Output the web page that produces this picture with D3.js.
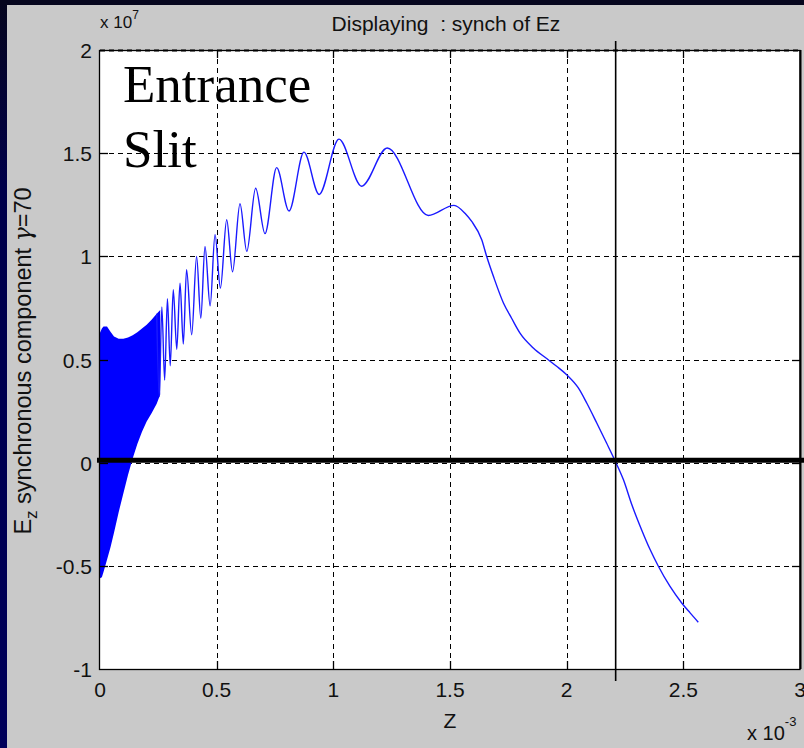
<!DOCTYPE html>
<html>
<head>
<meta charset="utf-8">
<script src="https://cdn.jsdelivr.net/npm/d3@7"></script>
<style>
  html, body { margin: 0; padding: 0; background: #05052a; overflow: hidden; }
  svg { display: block; }
</style>
</head>
<body>
<svg id="chart" width="804" height="748"></svg>
<script>
// z in units of 1e-3, Ez in units of 1e7

// Envelope of the densely oscillating field near the entrance slit
const envZ     = [0, 0.008, 0.015, 0.03, 0.045, 0.06, 0.08, 0.1, 0.12, 0.14, 0.16, 0.18, 0.2, 0.221, 0.243, 0.258];
const envUpper = [0.63, 0.65, 0.66, 0.66, 0.635, 0.612, 0.6, 0.6, 0.607, 0.618, 0.632, 0.65, 0.669, 0.693, 0.722, 0.74];
const envLower = [-0.56, -0.555, -0.53, -0.47, -0.41, -0.34, -0.24, -0.15, -0.06, 0.02, 0.09, 0.15, 0.2, 0.24, 0.285, 0.33];

// Resolved oscillation (peaks and troughs) and the smooth tail
const waveZ  = [0.243, 0.254, 0.265, 0.277, 0.289, 0.301, 0.314, 0.329,
                0.343, 0.357, 0.371, 0.393, 0.414, 0.432, 0.45, 0.472, 0.493, 0.516, 0.543, 0.568,
                0.6, 0.629, 0.667, 0.707, 0.757, 0.81, 0.874, 0.939, 1.024, 1.121, 1.231, 1.407, 1.517,
                1.567, 1.593, 1.636, 1.657, 1.686, 1.729, 1.764, 1.8, 1.857, 1.921, 1.957, 2.0, 2.05,
                2.086, 2.129, 2.171, 2.207, 2.243, 2.279, 2.321, 2.357, 2.393, 2.443, 2.493, 2.529, 2.564];
const waveEz = [0.722, 0.32, 0.755, 0.40, 0.795, 0.47, 0.838, 0.55,
                0.87, 0.575, 0.935, 0.62, 1.0, 0.70, 1.048, 0.76, 1.105, 0.846, 1.177, 0.925,
                1.255, 1.024, 1.33, 1.11, 1.43, 1.22, 1.505, 1.30, 1.568, 1.34, 1.525, 1.198, 1.247,
                1.205, 1.169, 1.08, 1.0, 0.903, 0.774, 0.70, 0.628, 0.556, 0.499, 0.467, 0.426, 0.362,
                0.289, 0.192, 0.095, 0.01, -0.082, -0.203, -0.325, -0.42, -0.502, -0.6, -0.68, -0.728, -0.773];

const xTicks = [0, 0.5, 1, 1.5, 2, 2.5, 3];
const xTickLabels = ["0", "0.5", "1", "1.5", "2", "2.5", "3"];
const yTicks = [-1, -0.5, 0, 0.5, 1, 1.5, 2];
const yTickLabels = ["-1", "-0.5", "0", "0.5", "1", "1.5", "2"];

// Slide annotations: exit position and zero reference
const exitZ = 2.21;
const baselineEz = 0.012;

const W = 804, H = 748;
const plot = { left: 100, right: 800, top: 50, bottom: 669 };

const svg = d3.select("#chart");
const x = d3.scaleLinear().domain([0, 3]).range([plot.left, plot.right]);
const y = d3.scaleLinear().domain([-1, 2]).range([plot.bottom, plot.top]);

// slide background
const defs = svg.append("defs");
const grad = defs.append("linearGradient").attr("id", "slideBg")
  .attr("x1", 0).attr("y1", 0).attr("x2", 0).attr("y2", 1);
grad.append("stop").attr("offset", "0%").attr("stop-color", "#06061e");
grad.append("stop").attr("offset", "25%").attr("stop-color", "#00004a");
grad.append("stop").attr("offset", "100%").attr("stop-color", "#00005a");
svg.append("rect").attr("width", W).attr("height", H).attr("fill", "url(#slideBg)");
svg.append("rect").attr("x", 0).attr("y", 0).attr("width", W).attr("height", 5).attr("fill", "#06061e");

// figure panel
svg.append("rect").attr("x", 7).attr("y", 5).attr("width", W - 7).attr("height", H - 5).attr("fill", "#c9c9c9");

// axes background
svg.append("rect")
  .attr("x", plot.left).attr("y", plot.top)
  .attr("width", plot.right - plot.left).attr("height", plot.bottom - plot.top)
  .attr("fill", "#ffffff");

defs.append("clipPath").attr("id", "plotClip").append("rect")
  .attr("x", plot.left).attr("y", plot.top)
  .attr("width", plot.right - plot.left).attr("height", plot.bottom - plot.top);

// grid
const grid = svg.append("g").attr("stroke", "#000").attr("stroke-width", 1)
  .attr("stroke-dasharray", "5,4").attr("fill", "none");
grid.selectAll("line.vx").data(xTicks.slice(1, -1)).join("line")
  .attr("x1", d => Math.round(x(d)) + 0.5).attr("x2", d => Math.round(x(d)) + 0.5)
  .attr("y1", plot.top).attr("y2", plot.bottom);
grid.selectAll("line.hy").data(yTicks.slice(1, -1)).join("line")
  .attr("x1", plot.left).attr("x2", plot.right)
  .attr("y1", d => Math.round(y(d)) + 0.5).attr("y2", d => Math.round(y(d)) + 0.5);
grid.append("line").attr("x1", plot.left).attr("x2", plot.right)
  .attr("y1", plot.top + 0.5).attr("y2", plot.top + 0.5).attr("stroke-width", 2);

// field curve
const data = svg.append("g").attr("clip-path", "url(#plotClip)");
const envData = envZ.map((z, i) => ({ z, hi: envUpper[i], lo: envLower[i] }));
data.append("path")
  .datum(envData)
  .attr("fill", "#0000ff")
  .attr("d", d3.area().x(d => x(d.z)).y0(d => y(d.lo)).y1(d => y(d.hi)));

const waveData = waveZ.map((z, i) => ({ z, v: waveEz[i] }));
data.append("path")
  .datum(waveData)
  .attr("fill", "none")
  .attr("stroke", "#1a1aff")
  .attr("stroke-width", 1.4)
  .attr("stroke-linejoin", "round")
  .attr("d", d3.line().x(d => x(d.z)).y(d => y(d.v)).curve(d3.curveMonotoneX));

// frame
svg.append("rect")
  .attr("x", plot.left - 0.5).attr("y", plot.top + 0.5)
  .attr("width", plot.right - plot.left + 0.5).attr("height", plot.bottom - plot.top)
  .attr("fill", "none").attr("stroke", "#000").attr("stroke-width", 1.3);
svg.append("line")
  .attr("x1", plot.right + 0.5).attr("x2", plot.right + 0.5)
  .attr("y1", plot.top).attr("y2", plot.bottom)
  .attr("stroke", "#000").attr("stroke-width", 2);

// inward ticks on all four sides
const tickLen = 8;
const ticks = svg.append("g").attr("stroke", "#000").attr("stroke-width", 1.3);
xTicks.slice(1, -1).forEach(t => {
  const px = Math.round(x(t)) + 0.5;
  ticks.append("line").attr("x1", px).attr("x2", px).attr("y1", plot.bottom).attr("y2", plot.bottom - tickLen);
  ticks.append("line").attr("x1", px).attr("x2", px).attr("y1", plot.top).attr("y2", plot.top + tickLen);
});
yTicks.slice(1, -1).forEach(t => {
  const py = Math.round(y(t)) + 0.5;
  ticks.append("line").attr("x1", plot.left).attr("x2", plot.left + tickLen).attr("y1", py).attr("y2", py);
  ticks.append("line").attr("x1", plot.right).attr("x2", plot.right - tickLen).attr("y1", py).attr("y2", py);
});

// tick labels
const font = "'Liberation Sans', Arial, sans-serif";
const labels = svg.append("g").attr("font-family", font).attr("fill", "#111").attr("font-size", 21);
labels.selectAll("text.xl").data(xTicks).join("text")
  .attr("x", d => x(d)).attr("y", plot.bottom + 28)
  .attr("text-anchor", "middle")
  .text((d, i) => xTickLabels[i]);
labels.selectAll("text.yl").data(yTicks).join("text")
  .attr("x", plot.left - 8).attr("y", d => y(d) + 8)
  .attr("text-anchor", "end")
  .text((d, i) => yTickLabels[i]);

// exponent annotations
const expTop = svg.append("text").attr("font-family", font).attr("fill", "#111")
  .attr("x", plot.left).attr("y", 28).attr("font-size", 17);
expTop.append("tspan").text("x 10");
expTop.append("tspan").attr("dy", -9).attr("font-size", 12).text("7");

const expBottom = svg.append("text").attr("font-family", font).attr("fill", "#111")
  .attr("x", 747).attr("y", 740).attr("font-size", 20);
expBottom.append("tspan").text("x 10");
expBottom.append("tspan").attr("dy", -14).attr("font-size", 13).text("-3");

// title and axis labels
svg.append("text").attr("font-family", font).attr("fill", "#111").attr("font-size", 21)
  .attr("x", 446).attr("y", 31).attr("text-anchor", "middle")
  .attr("xml:space", "preserve")
  .text("Displaying  : synch of Ez");

svg.append("text").attr("font-family", font).attr("fill", "#111").attr("font-size", 21)
  .attr("x", x(1.5)).attr("y", 728).attr("text-anchor", "middle")
  .text("Z");

const yl = svg.append("text").attr("font-family", font).attr("fill", "#111").attr("font-size", 23.5)
  .attr("text-anchor", "middle")
  .attr("transform", `translate(31, 361) rotate(-90)`);
yl.append("tspan").text("E");
yl.append("tspan").attr("dy", 6).attr("font-size", 17).text("z");
yl.append("tspan").attr("dy", -6).text(" synchronous component ");
yl.append("tspan").attr("font-style", "italic").attr("font-family", "'DejaVu Serif', serif").text("\u03B3");
yl.append("tspan").text("=70");

// slide annotations: zero reference and exit marker
svg.append("line")
  .attr("x1", 97).attr("x2", W)
  .attr("y1", y(baselineEz)).attr("y2", y(baselineEz))
  .attr("stroke", "#000").attr("stroke-width", 5);
svg.append("line")
  .attr("x1", x(exitZ)).attr("x2", x(exitZ))
  .attr("y1", plot.top - 9).attr("y2", plot.bottom + 12)
  .attr("stroke", "#000").attr("stroke-width", 1.6);

const slit = svg.append("text").attr("font-family", "'Liberation Serif', 'Times New Roman', serif")
  .attr("fill", "#000").attr("font-size", 53);
slit.append("tspan").attr("x", 123).attr("y", 102).text("Entrance");
slit.append("tspan").attr("x", 123).attr("y", 167).text("Slit");
</script>
</body>
</html>
